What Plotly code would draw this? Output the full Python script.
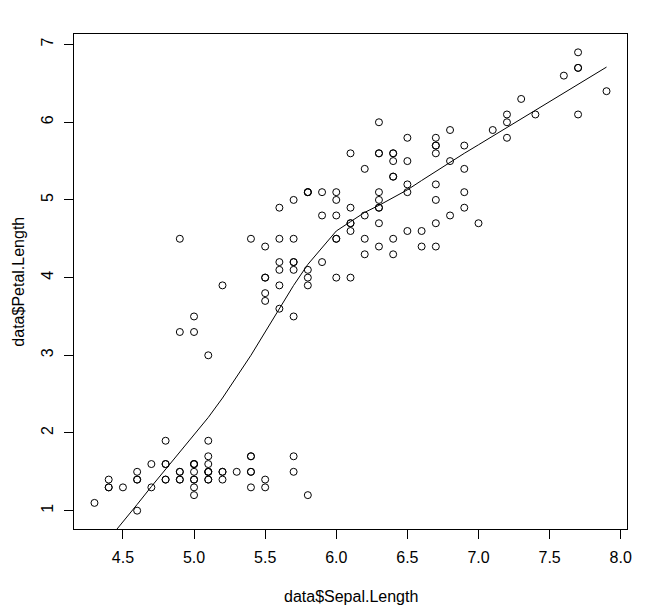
import plotly.graph_objects as go

# iris: Sepal.Length vs Petal.Length
sepal_length = [
    5.1, 4.9, 4.7, 4.6, 5.0, 5.4, 4.6, 5.0, 4.4, 4.9, 5.4, 4.8, 4.8, 4.3, 5.8, 5.7, 5.4, 5.1, 5.7, 5.1,
    5.4, 5.1, 4.6, 5.1, 4.8, 5.0, 5.0, 5.2, 5.2, 4.7, 4.8, 5.4, 5.2, 5.5, 4.9, 5.0, 5.5, 4.9, 4.4, 5.1,
    5.0, 4.5, 4.4, 5.0, 5.1, 4.8, 5.1, 4.6, 5.3, 5.0,
    7.0, 6.4, 6.9, 5.5, 6.5, 5.7, 6.3, 4.9, 6.6, 5.2, 5.0, 5.9, 6.0, 6.1, 5.6, 6.7, 5.6, 5.8, 6.2, 5.6,
    5.9, 6.1, 6.3, 6.1, 6.4, 6.6, 6.8, 6.7, 6.0, 5.7, 5.5, 5.5, 5.8, 6.0, 5.4, 6.0, 6.7, 6.3, 5.6, 5.5,
    5.5, 6.1, 5.8, 5.0, 5.6, 5.7, 5.7, 6.2, 5.1, 5.7,
    6.3, 5.8, 7.1, 6.3, 6.5, 7.6, 4.9, 7.3, 6.7, 7.2, 6.5, 6.4, 6.8, 5.7, 5.8, 6.4, 6.5, 7.7, 7.7, 6.0,
    6.9, 5.6, 7.7, 6.3, 6.7, 7.2, 6.2, 6.1, 6.4, 7.2, 7.4, 7.9, 6.4, 6.3, 6.1, 7.7, 6.3, 6.4, 6.0, 6.9,
    6.7, 6.9, 5.8, 6.8, 6.7, 6.7, 6.3, 6.5, 6.2, 5.9,
]
petal_length = [
    1.4, 1.4, 1.3, 1.5, 1.4, 1.7, 1.4, 1.5, 1.4, 1.5, 1.5, 1.6, 1.4, 1.1, 1.2, 1.5, 1.3, 1.4, 1.7, 1.5,
    1.7, 1.5, 1.0, 1.7, 1.9, 1.6, 1.6, 1.5, 1.4, 1.6, 1.6, 1.5, 1.5, 1.4, 1.5, 1.2, 1.3, 1.4, 1.3, 1.5,
    1.3, 1.3, 1.3, 1.6, 1.9, 1.4, 1.6, 1.4, 1.5, 1.4,
    4.7, 4.5, 4.9, 4.0, 4.6, 4.5, 4.7, 3.3, 4.6, 3.9, 3.5, 4.2, 4.0, 4.7, 3.6, 4.4, 4.5, 4.1, 4.5, 3.9,
    4.8, 4.0, 4.9, 4.7, 4.3, 4.4, 4.8, 5.0, 4.5, 3.5, 3.8, 3.7, 3.9, 5.1, 4.5, 4.5, 4.7, 4.4, 4.1, 4.0,
    4.4, 4.6, 4.0, 3.3, 4.2, 4.2, 4.2, 4.3, 3.0, 4.1,
    6.0, 5.1, 5.9, 5.6, 5.8, 6.6, 4.5, 6.3, 5.8, 6.1, 5.1, 5.3, 5.5, 5.0, 5.1, 5.3, 5.5, 6.7, 6.9, 5.0,
    5.7, 4.9, 6.7, 4.9, 5.7, 6.0, 4.8, 4.9, 5.6, 5.8, 6.1, 6.4, 5.6, 5.1, 5.6, 6.1, 5.6, 5.5, 4.8, 5.4,
    5.6, 5.1, 5.1, 5.9, 5.7, 5.2, 5.0, 5.2, 5.4, 5.1,
]

# smooth line at each distinct x
smooth_x = [4.3, 4.4, 4.5, 4.6, 4.7, 4.8, 4.9, 5.0, 5.1, 5.2, 5.3, 5.4, 5.5, 5.6, 5.7, 5.8,
            5.9, 6.0, 6.1, 6.2, 6.3, 6.4, 6.5, 6.6, 6.7, 6.8, 6.9, 7.0, 7.1, 7.2, 7.3, 7.4,
            7.6, 7.7, 7.9]
smooth_y = [0.41, 0.63, 0.86, 1.08, 1.31, 1.53, 1.75, 1.98, 2.2, 2.45, 2.72, 3.0, 3.3, 3.6, 3.9, 4.17,
            4.39, 4.6, 4.72, 4.84, 4.93, 5.03, 5.13, 5.25, 5.37, 5.49, 5.6, 5.71, 5.82, 5.93, 6.04, 6.15,
            6.37, 6.48, 6.71]

x_ticks = [4.5, 5.0, 5.5, 6.0, 6.5, 7.0, 7.5, 8.0]
y_ticks = [1, 2, 3, 4, 5, 6, 7]

font = "Liberation Sans, Arial, sans-serif"

fig = go.Figure()
fig.add_trace(go.Scatter(x=sepal_length, y=petal_length, mode="markers",
                         marker=dict(symbol="circle-open", size=7, color="black", line=dict(width=1, color="black")),
                         showlegend=False))
fig.add_trace(go.Scatter(x=smooth_x, y=smooth_y, mode="lines",
                         line=dict(color="black", width=1), showlegend=False))

# page body has an 8px margin, so the figure is a bit smaller than the window
fig.update_layout(
    width=643, height=607,
    margin=dict(l=66, r=24, t=26, b=86, autoexpand=False),
    plot_bgcolor="white", paper_bgcolor="white",
    font=dict(family=font, size=16, color="black"),
    xaxis=dict(range=[4.156, 8.044], tickvals=x_ticks, ticktext=["%.1f" % v for v in x_ticks],
               ticks="outside", ticklen=9, tickcolor="black", tickwidth=1,
               showline=True, mirror=True, linecolor="black", linewidth=1,
               showgrid=False, zeroline=False, ticklabelstandoff=5),
    yaxis=dict(range=[0.764, 7.136], tickvals=y_ticks, ticktext=[str(v) for v in y_ticks],
               ticks="outside", ticklen=9, tickcolor="black", tickwidth=1, tickangle=-90,
               showline=True, mirror=True, linecolor="black", linewidth=1,
               showgrid=False, zeroline=False, ticklabelstandoff=5),
    annotations=[
        dict(text="data$Sepal.Length", xref="paper", yref="paper", x=0.5, y=-0.137,
             xanchor="center", yanchor="middle", showarrow=False, font=dict(size=16)),
        dict(text="data$Petal.Length", xref="paper", yref="paper", x=-0.101, y=0.5,
             xanchor="center", yanchor="middle", textangle=-90, showarrow=False, font=dict(size=16)),
    ],
)

fig.write_html("out.html")
